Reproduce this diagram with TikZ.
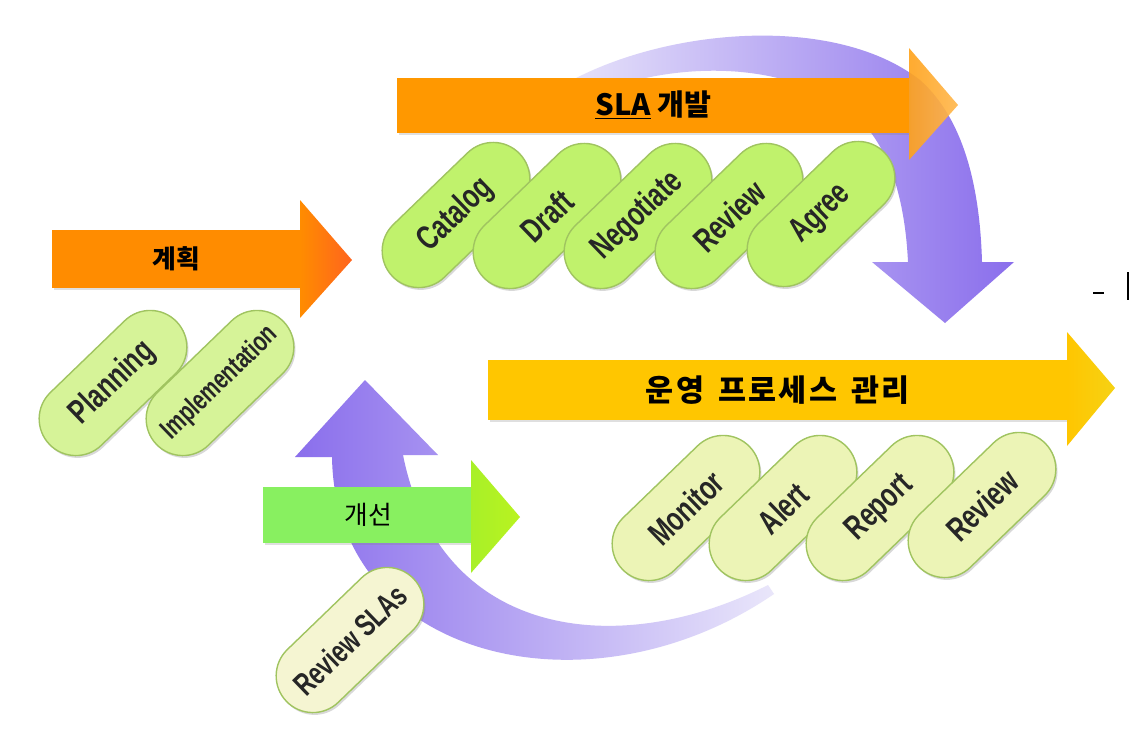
\documentclass[tikz,border=0pt]{standalone}
\usepackage{fontspec}
\setmainfont{Liberation Sans}
\newfontfamily\krfont{Noto Sans CJK KR}
\newfontfamily\pillfont{Liberation Sans}[FakeStretch=0.72,BoldFeatures={FakeStretch=0.72}]
\usetikzlibrary{shapes.misc,shadows}

\definecolor{planorange}{RGB}{255,140,0}
\definecolor{planred}{RGB}{255,100,30}
\definecolor{slaorange}{RGB}{255,152,0}
\definecolor{opyellow}{RGB}{255,198,0}
\definecolor{impgreen}{RGB}{136,240,96}
\definecolor{tipgreen}{RGB}{168,240,40}
\definecolor{pillgreen}{RGB}{192,242,108}
\definecolor{pilllight}{RGB}{214,243,152}
\definecolor{pillpale}{RGB}{236,244,182}
\definecolor{pillcream}{RGB}{245,245,210}
\definecolor{pillrim}{RGB}{160,196,96}
\definecolor{cyclepurple}{RGB}{138,110,236}
\definecolor{cyclelight}{RGB}{212,206,246}

\begin{document}
\begin{tikzpicture}[
    x=0.03cm, y=-0.03cm,
    phasebar/.style={rectangle, anchor=west, inner sep=0pt,
                     drop shadow={opacity=0.25, shadow xshift=0.04cm, shadow yshift=-0.06cm},
                     font=\krfont\bfseries\fontsize{22}{24}\selectfont},
    pill/.style={rounded rectangle, rotate=44, minimum width=5.3cm,
                 minimum height=2.2cm, inner sep=0pt, draw=pillrim,
                 line width=1.2pt, text=black!85,
                 drop shadow={opacity=0.3, shadow xshift=0.05cm, shadow yshift=-0.07cm},
                 font=\pillfont\bfseries\fontsize{29}{30}\selectfont},
    tip/.style={draw=none}
]
\useasboundingbox (0,0) rectangle (1130,746);
\fill[white] (0,0) rectangle (1130,746);

% purple cycle arrows
\shade[left color=cyclelight!50!white, middle color=cyclepurple!65!white, right color=cyclepurple]
  (555,90) .. controls (650,30) and (830,10) .. (920,80)
  .. controls (965,120) and (980,190) .. (982,262)
  -- (1014,262) -- (945,323) -- (872,262) -- (908,262)
  .. controls (905,200) and (890,150) .. (860,120)
  .. controls (790,55) and (660,60) .. (575,102) -- cycle;
\shade[left color=cyclepurple, middle color=cyclepurple!85!white, right color=cyclelight!50!white]
  (768,585) .. controls (620,660) and (440,640) .. (403,455)
  -- (438,455) -- (365,380) -- (295,457) -- (332,457)
  .. controls (335,660) and (590,720) .. (774,594) -- cycle;

% phase bars
\node[phasebar, fill=planorange, minimum width=7.44cm, minimum height=1.74cm] (plan) at (52,259) {계획};
\shade[tip, left color=planorange, right color=planred] (300,200) -- (352,260) -- (300,318) -- cycle;

\node[phasebar, fill=slaorange, minimum width=15.36cm, minimum height=1.65cm,
      font=\krfont\bfseries\fontsize{25}{27}\selectfont] (sla) at (397,105) {\underline{SLA} 개발};
\shade[tip, left color=slaorange!90!white, right color=slaorange!70!white, opacity=0.9]
  (909,48) -- (958,105) -- (909,160) -- cycle;

\node[phasebar, fill=opyellow, minimum width=17.37cm, minimum height=1.8cm,
      font=\krfont\bfseries\fontsize{26}{28}\selectfont\addfontfeature{LetterSpace=8}] (oper) at (488,390)
  {운영\hspace{0.45em}프로세스\hspace{0.45em}관리};
\shade[tip, left color=opyellow, right color={rgb,255:red,246;green,210;blue,20}]
  (1067,332) -- (1115,388) -- (1067,446) -- cycle;

\node[phasebar, fill=impgreen, minimum width=6.3cm, minimum height=1.68cm,
      font=\krfont\fontsize{22}{24}\selectfont] (improve) at (263,515) {개선\hspace{0.8em}};
\shade[tip, left color=tipgreen, right color=tipgreen!80!yellow] (471,460) -- (520,517) -- (471,573) -- cycle;

% planning steps
\node[pill, fill=pilllight] (planning) at (113,383) {Planning};
\node[pill, fill=pilllight, font=\pillfont\bfseries\fontsize{24}{26}\selectfont] (impl) at (220,383) {Implementation};

% SLA development steps
\node[pill, fill=pillgreen] (catalog) at (456,215) {Catalog};
\node[pill, fill=pillgreen] (draft) at (547,216) {Draft};
\node[pill, fill=pillgreen] (negotiate) at (638,216) {Negotiate};
\node[pill, fill=pillgreen] (review) at (729,216) {Review};
\node[pill, fill=pillgreen] (agree) at (821,214) {Agree};

% operation steps
\node[pill, fill=pillpale] (monitor) at (686,508) {Monitor};
\node[pill, fill=pillpale] (alert) at (783,508) {Alert};
\node[pill, fill=pillpale] (report) at (880,508) {Report};
\node[pill, fill=pillpale] (opreview) at (982,505) {Review};

% improvement step
\node[pill, fill=pillcream, font=\pillfont\bfseries\fontsize{27}{28}\selectfont] (reviewsla) at (350,640) {Review SLAs};

% cut-off marks at the right edge
\draw[line width=2pt] (1093,293) -- (1104,293);
\draw[line width=1.5pt] (1128,272) -- (1128,300);
\end{tikzpicture}
\end{document}
